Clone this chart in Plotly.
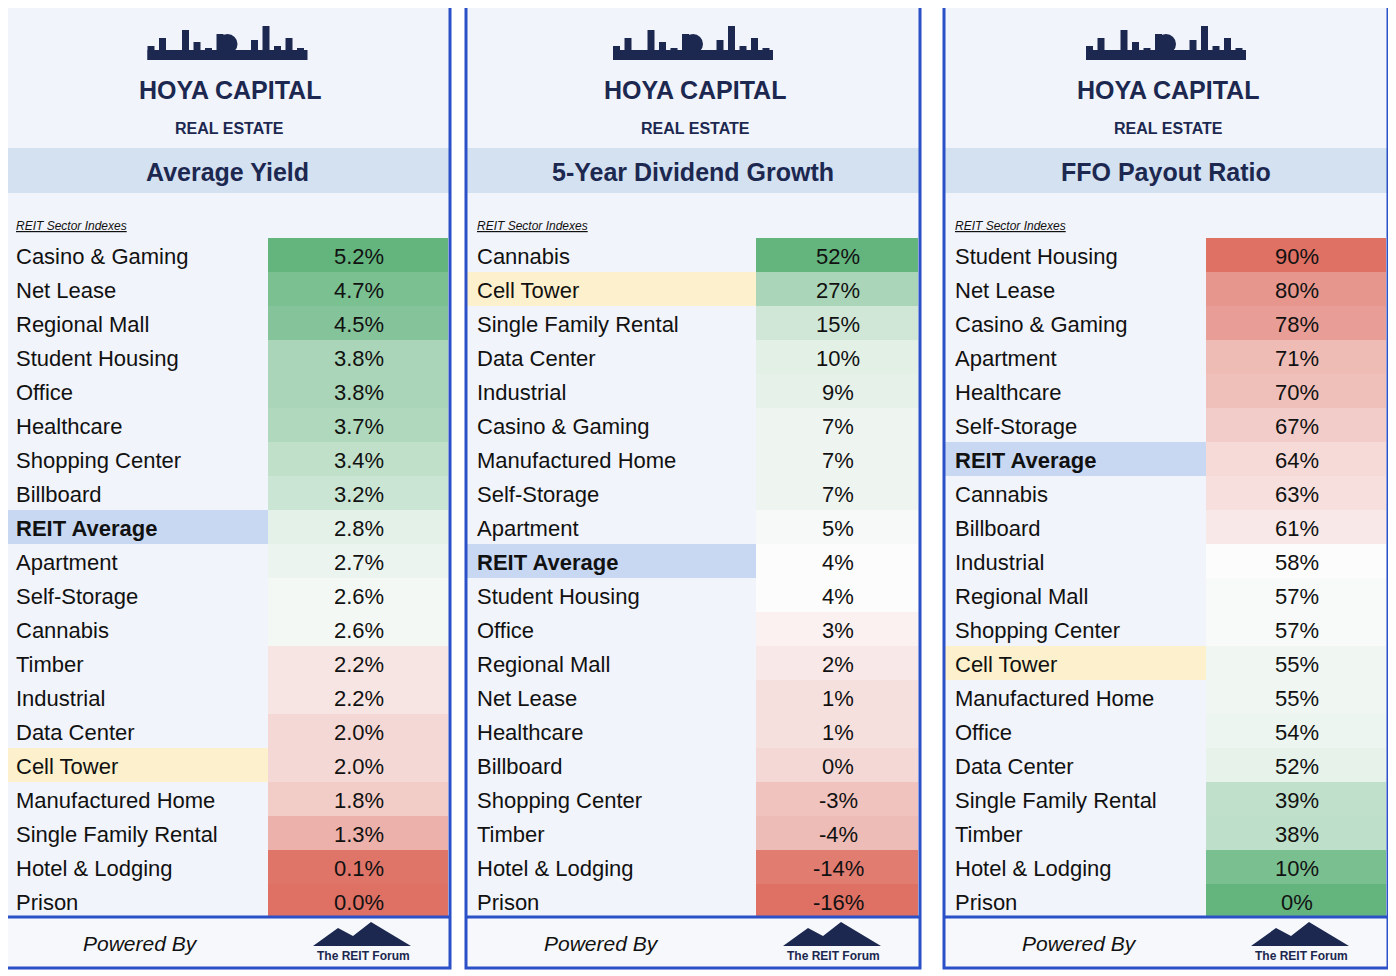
import plotly.graph_objects as go

# data for the three panels
yield_labels = ["Casino & Gaming", "Net Lease", "Regional Mall", "Student Housing", "Office", "Healthcare",
                "Shopping Center", "Billboard", "REIT Average", "Apartment", "Self-Storage", "Cannabis", "Timber",
                "Industrial", "Data Center", "Cell Tower", "Manufactured Home", "Single Family Rental",
                "Hotel & Lodging", "Prison"]
yield_values = [5.2, 4.7, 4.5, 3.8, 3.8, 3.7, 3.4, 3.2, 2.8, 2.7, 2.6, 2.6, 2.2, 2.2, 2.0, 2.0, 1.8, 1.3, 0.1, 0.0]

growth_labels = ["Cannabis", "Cell Tower", "Single Family Rental", "Data Center", "Industrial", "Casino & Gaming",
                 "Manufactured Home", "Self-Storage", "Apartment", "REIT Average", "Student Housing", "Office",
                 "Regional Mall", "Net Lease", "Healthcare", "Billboard", "Shopping Center", "Timber",
                 "Hotel & Lodging", "Prison"]
growth_values = [52, 27, 15, 10, 9, 7, 7, 7, 5, 4, 4, 3, 2, 1, 1, 0, -3, -4, -14, -16]

payout_labels = ["Student Housing", "Net Lease", "Casino & Gaming", "Apartment", "Healthcare", "Self-Storage",
                 "REIT Average", "Cannabis", "Billboard", "Industrial", "Regional Mall", "Shopping Center",
                 "Cell Tower", "Manufactured Home", "Office", "Data Center", "Single Family Rental", "Timber",
                 "Hotel & Lodging", "Prison"]
payout_values = [90, 80, 78, 71, 70, 67, 64, 63, 61, 58, 57, 57, 55, 55, 54, 52, 39, 38, 10, 0]

titles = ["Average Yield", "5-Year Dividend Growth", "FFO Payout Ratio"]

GREEN = (99, 180, 125)
RED = (222, 112, 100)
WHITE = (252, 252, 252)
NAVY = "#1c2850"
BLUE = "#2b50c8"


def mix(a, b, t):
    t = max(0, min(1, t))
    return "rgb(%d,%d,%d)" % tuple(round(a[i] + (b[i] - a[i]) * t) for i in range(3))


def cell_color(v, vals, mid, high_good=True):
    hi, lo = max(vals), min(vals)
    if v >= mid:
        t = (v - mid) / (hi - mid) if hi > mid else 0
        return mix(WHITE, GREEN if high_good else RED, t ** 0.85)
    t = (mid - v) / (mid - lo) if mid > lo else 0
    return mix(WHITE, RED if high_good else GREEN, t ** 0.85)


panels = [
    dict(x0=5, x1=450, split=268, labels=yield_labels, values=yield_values, fmt="{:.1f}%", mid=2.5, good=True),
    dict(x0=466, x1=920, split=756, labels=growth_labels, values=growth_values, fmt="{}%", mid=4, good=True),
    dict(x0=944, x1=1388, split=1206, labels=payout_labels, values=payout_values, fmt="{}%", mid=58, good=False),
]

fig = go.Figure()
shapes, ann = [], []
ROW0, RH = 238, 34
FONT = "Liberation Sans, Arial, sans-serif"
FS = 22

for p, title in zip(panels, titles):
    x0, x1, sp = p["x0"], p["x1"], p["split"]
    cx = (x0 + x1) / 2
    shapes.append(dict(type="rect", x0=x0, x1=x1, y0=5, y1=968, fillcolor="#f1f4fa", line=dict(width=0), layer="below"))
    shapes.append(dict(type="rect", x0=x0, x1=x1, y0=148, y1=193, fillcolor="#d3e1f0", line=dict(width=0)))
    ann.append(dict(x=cx, y=172, text="<b>" + title + "</b>", showarrow=False,
                    font=dict(size=25, color=NAVY, family=FONT)))
    # logo
    ann.append(dict(x=cx + 2, y=90, text="<b>HOYA CAPITAL</b>", showarrow=False,
                    font=dict(size=25, color=NAVY, family=FONT)))
    ann.append(dict(x=cx + 2, y=128, text="<b>REAL ESTATE</b>", showarrow=False,
                    font=dict(size=16, color=NAVY, family=FONT)))
    shapes.append(dict(type="rect", x0=cx - 80, x1=cx + 80, y0=50, y1=60, fillcolor=NAVY, line=dict(width=0)))
    for k, h in enumerate([14, 22, 10, 30, 18, 12, 26, 16, 10, 20, 34, 14, 22, 12]):
        bx = cx - 80 + k * 11.5
        shapes.append(dict(type="rect", x0=bx, x1=bx + 7, y0=60 - h, y1=60, fillcolor=NAVY, line=dict(width=0)))
    shapes.append(dict(type="circle", x0=cx - 10, x1=cx + 10, y0=34, y1=54, fillcolor=NAVY, line=dict(width=0)))
    ann.append(dict(x=x0 + 9, y=226, text="<i><u>REIT Sector Indexes</u></i>", showarrow=False, xanchor="left",
                    font=dict(size=12, color="#111", family=FONT)))
    for i, (lab, v) in enumerate(zip(p["labels"], p["values"])):
        ya, yb = ROW0 + i * RH, ROW0 + (i + 1) * RH
        ym = (ya + yb) / 2
        if lab == "REIT Average":
            shapes.append(dict(type="rect", x0=x0, x1=sp, y0=ya, y1=yb, fillcolor="#c8d8f3", line=dict(width=0)))
        elif lab == "Cell Tower":
            shapes.append(dict(type="rect", x0=x0, x1=sp, y0=ya, y1=yb, fillcolor="#fdf1cd", line=dict(width=0)))
        shapes.append(dict(type="rect", x0=sp, x1=x1 - 2, y0=ya, y1=yb,
                           fillcolor=cell_color(v, p["values"], p["mid"], p["good"]), line=dict(width=0)))
        txt = "<b>" + lab + "</b>" if lab == "REIT Average" else lab
        ann.append(dict(x=x0 + 9, y=ym + 1, text=txt, showarrow=False, xanchor="left",
                        font=dict(size=FS, color="#111", family=FONT)))
        ann.append(dict(x=(sp + x1) / 2, y=ym + 1, text=p["fmt"].format(v), showarrow=False,
                        font=dict(size=FS, color="#111", family=FONT)))
    # footer
    shapes.append(dict(type="line", x0=x0, x1=x1, y0=917, y1=917, line=dict(color=BLUE, width=3)))
    shapes.append(dict(type="rect", x0=x0, x1=x1, y0=919, y1=968, fillcolor="#f6f8fb", line=dict(width=0)))
    ann.append(dict(x=x0 + 135, y=943, text="<i>Powered By</i>", showarrow=False,
                    font=dict(size=21, color="#111", family=FONT)))
    mx = x1 - 87
    shapes.append(dict(type="path", path=f"M {mx-50},946 L {mx-25},928 L {mx-10},936 L {mx+8},922 L {mx+48},946 Z",
                       fillcolor=NAVY, line=dict(width=0)))
    ann.append(dict(x=mx, y=956, text="<b>The REIT Forum</b>", showarrow=False,
                    font=dict(size=12, color=NAVY, family=FONT)))
    shapes.append(dict(type="rect", x0=x0, x1=x1, y0=5, y1=968, line=dict(color=BLUE, width=3)))

# the page body adds an 8px offset, so shift the visible range to compensate
fig.update_layout(
    width=1396, height=976, margin=dict(l=0, r=0, t=0, b=0),
    plot_bgcolor="white", paper_bgcolor="white", showlegend=False,
    xaxis=dict(range=[8, 1404], visible=False, fixedrange=True),
    yaxis=dict(range=[984, 8], visible=False, fixedrange=True),
    shapes=shapes, annotations=ann,
)
fig.write_html("out.html")
